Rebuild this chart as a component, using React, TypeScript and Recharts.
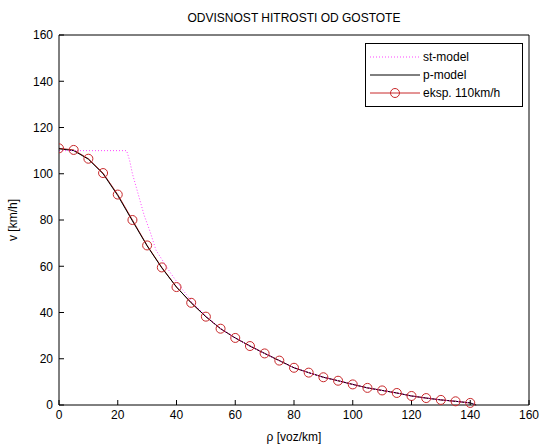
import React from 'react';
import { LineChart, Line, XAxis, YAxis, Legend, Label } from 'recharts';

const xTicks = [0, 20, 40, 60, 80, 100, 120, 140, 160];
const yTicks = [0, 20, 40, 60, 80, 100, 120, 140, 160];

const densities = [0, 5, 10, 15, 20, 25, 30, 35, 40, 45, 50, 55, 60, 65, 70, 75, 80, 85, 90, 95, 100, 105, 110, 115, 120, 125, 130, 135, 140];
const eksp = [111, 110.3, 106.5, 100.3, 91, 80, 69, 59.5, 51, 44.2, 38.2, 33, 29, 25.5, 22.3, 19.2, 16.1, 14.0, 12.0, 10.5, 8.9, 7.4, 6.3, 5.2, 3.9, 3.0, 2.2, 1.6, 0.9];

const pX = [0, 5, 10, 15, 20, 25, 30, 35, 40, 45, 50, 55, 60, 65, 70, 75, 80, 85, 90, 95, 100, 105, 110, 115, 120, 125, 130, 135, 140, 142];
const pV = [110.8, 110, 106.3, 100, 90.6, 79.6, 68.8, 59.3, 51, 44.2, 38.2, 33, 29, 25.5, 22.3, 19.2, 16.1, 14.0, 12.0, 10.5, 8.9, 7.4, 6.3, 5.2, 3.9, 3.0, 2.2, 1.6, 0.9, 0];

const stX = [0, 23, 24, 25, 27, 29, 31, 33, 36, 38, 42, 45, 50, 55, 60, 65, 70, 75, 80, 85, 90, 95, 100, 105, 110, 115, 120, 125, 130, 135, 140, 142];
const stV = [110, 110, 106, 100, 91, 82, 75, 67, 61, 57, 50, 45, 38.5, 33, 29, 25.5, 22.3, 19.2, 16.1, 14.0, 12.0, 10.5, 8.9, 7.4, 6.3, 5.2, 3.9, 3.0, 2.2, 1.6, 0.9, 0];

const eksData = densities.map((x, i) => ({ x, v: eksp[i] }));
const pData = pX.map((x, i) => ({ x, v: pV[i] }));
const stData = stX.map((x, i) => ({ x, v: stV[i] }));

const FONT = '"Liberation Sans", Arial, sans-serif';
const RED = '#c8282a';
const MAGENTA = '#ff44ff';

const legendItems = [
  { name: 'st-model', color: MAGENTA, dash: '1 2', marker: false },
  { name: 'p-model', color: '#000000', dash: undefined, marker: false },
  { name: 'eksp. 110km/h', color: RED, dash: undefined, marker: true },
];

const LegendBox = () => (
  <div
    style={{
      border: '1px solid #000',
      background: '#fff',
      padding: '4px 0',
      width: 156,
      boxSizing: 'content-box',
      fontFamily: FONT,
      fontSize: 12,
      color: '#000',
    }}
  >
    {legendItems.map((it) => (
      <div key={it.name} style={{ display: 'flex', alignItems: 'center', height: 18 }}>
        <svg width={56} height={18} style={{ display: 'block' }}>
          <line x1={4} x2={54} y1={9} y2={9} stroke={it.color} strokeWidth={1} strokeDasharray={it.dash} />
          {it.marker && <circle cx={29} cy={9} r={4.5} fill="none" stroke={it.color} strokeWidth={1} />}
        </svg>
        <span style={{ marginLeft: 1, lineHeight: '18px' }}>{it.name}</span>
      </div>
    ))}
  </div>
);

const YLabel = (props: any) => {
  const vb = props.viewBox || { x: 0, y: 0, width: 0, height: 0 };
  const cx = vb.x + 14;
  const cy = vb.y + vb.height / 2;
  return (
    <text
      x={cx}
      y={cy}
      transform={`rotate(-90, ${cx}, ${cy})`}
      textAnchor="middle"
      dominantBaseline="middle"
      fontFamily={FONT}
      fontSize={12}
      fill="#000"
    >
      v [km/h]
    </text>
  );
};

const TitleLabel = (props: any) => {
  const vb = props.viewBox || { x: 0, y: 0, width: 0, height: 0 };
  return (
    <text
      x={vb.x + vb.width / 2}
      y={vb.y - 12}
      textAnchor="middle"
      fontFamily={FONT}
      fontSize={12}
      fill="#000"
    >
      ODVISNOST HITROSTI OD GOSTOTE
    </text>
  );
};

export default function App() {
  const tickStyle = { fontFamily: FONT, fontSize: 12, fill: '#000' };
  return (
    <div style={{ position: 'absolute', left: 0, top: 0, width: 541, height: 445, background: '#fff' }}>
      <LineChart width={541} height={445} margin={{ top: 34, right: 11, bottom: 0, left: 0 }}>
        <XAxis
          xAxisId="bottom"
          dataKey="x"
          type="number"
          domain={[0, 160]}
          ticks={xTicks}
          allowDataOverflow
          height={40}
          tickSize={-5}
          tickMargin={10}
          tick={tickStyle}
          stroke="#000"
          tickLine={{ stroke: '#000' }}
          axisLine={{ stroke: '#000' }}
          interval={0}
        >
          <Label value="ρ [voz/km]" position="insideBottom" offset={4} style={{ fontFamily: FONT, fontSize: 12, fill: '#000' }} />
        </XAxis>
        <XAxis
          xAxisId="top"
          orientation="top"
          dataKey="x"
          type="number"
          domain={[0, 160]}
          ticks={xTicks}
          height={1}
          tickSize={-5}
          tick={false}
          stroke="#000"
          interval={0}
        >
          <Label content={<TitleLabel />} />
        </XAxis>
        <YAxis
          yAxisId="left"
          type="number"
          domain={[0, 160]}
          ticks={yTicks}
          width={59}
          tickSize={-5}
          tickMargin={11}
          tick={tickStyle}
          stroke="#000"
          interval={0}
        >
          <Label content={<YLabel />} />
        </YAxis>
        <YAxis
          yAxisId="right"
          orientation="right"
          type="number"
          domain={[0, 160]}
          ticks={yTicks}
          width={1}
          tickSize={-5}
          tick={false}
          stroke="#000"
          interval={0}
        />
        <Line
          xAxisId="bottom"
          yAxisId="left"
          data={eksData}
          dataKey="v"
          type="linear"
          stroke={RED}
          strokeWidth={1}
          dot={{ r: 4.5, fill: 'none', stroke: RED, strokeWidth: 1 }}
          activeDot={false}
          isAnimationActive={false}
        />
        <Line
          xAxisId="bottom"
          yAxisId="left"
          data={pData}
          dataKey="v"
          type="linear"
          stroke="#000"
          strokeWidth={1}
          dot={false}
          activeDot={false}
          isAnimationActive={false}
        />
        <Line
          xAxisId="bottom"
          yAxisId="left"
          data={stData}
          dataKey="v"
          type="linear"
          stroke={MAGENTA}
          strokeWidth={1}
          strokeDasharray="1 2"
          dot={false}
          activeDot={false}
          isAnimationActive={false}
        />
        <Legend
          layout="vertical"
          align="center"
          verticalAlign="middle"
          content={<LegendBox />}
          wrapperStyle={{ top: 43, left: 365, width: 158, height: 66 }}
        />
      </LineChart>
    </div>
  );
}
